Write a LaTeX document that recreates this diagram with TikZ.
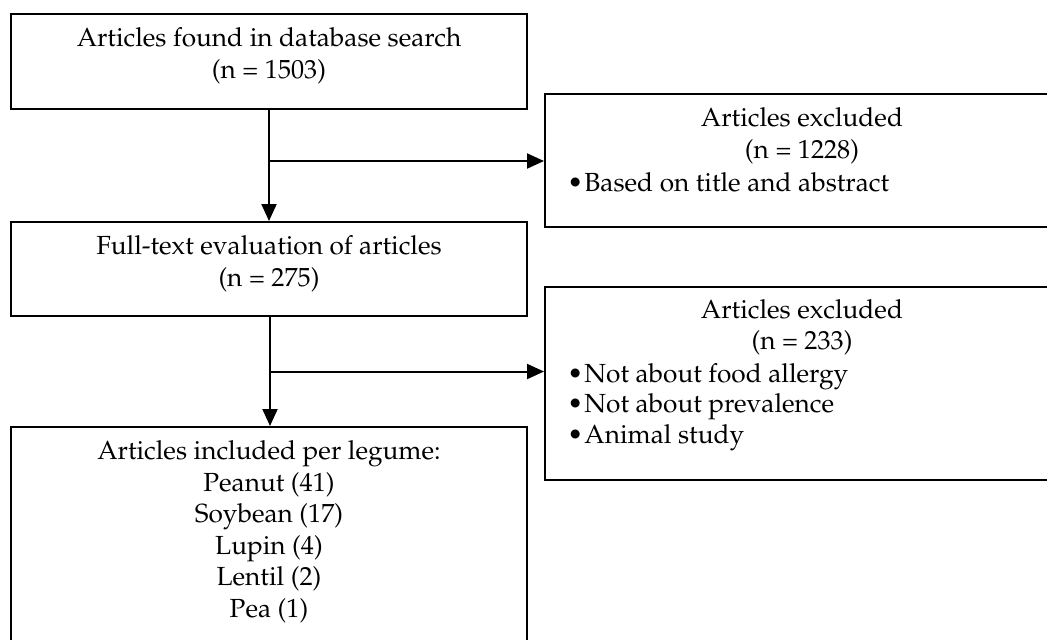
\documentclass[tikz,border=0pt]{standalone}
\usepackage[T1]{fontenc}
\usepackage{mathpazo}
\usetikzlibrary{arrows.meta}
\begin{document}
\begin{tikzpicture}[x=0.5pt,y=-0.5pt,
  box/.style={draw=black,line width=1pt,inner sep=0pt,rectangle},
  txt/.style={align=center,inner sep=0pt,font=\fontsize{13.1}{15.75}\selectfont},
  ltxt/.style={align=left,inner sep=0pt,anchor=west,font=\fontsize{13.1}{15.4}\selectfont},
  conn/.style={line width=1pt,-{Triangle[length=8.5pt,width=7.5pt]}}]
\useasboundingbox (0,0) rectangle (1047,639);
\clip (0,0) rectangle (1047,639);
% left column boxes
\node[box,minimum width=258pt,minimum height=47.5pt] (b1) at (269,61.5) {};
\node[box,minimum width=258pt,minimum height=47pt] (b2) at (269,269) {};
\node[box,minimum width=258pt,minimum height=109pt] (b3) at (269,536) {};
% right column boxes
\node[box,minimum width=257pt,minimum height=66.5pt] (r1) at (802,160.5) {};
\node[box,minimum width=257pt,minimum height=96.5pt] (r2) at (802,383.5) {};
% texts
\node[txt] (t1) at (269,56) {Articles found in database search\\(n = 1503)};
\node[txt] (t2) at (269,264) {Full-text evaluation of articles\\(n = 275)};
\node[txt] (t3) at (269,531.5) {Articles included per legume:\\Peanut (41)\\Soybean (17)\\Lupin (4)\\Lentil (2)\\Pea (1)};
\node[txt] (t4) at (802,136) {Articles excluded\\(n = 1228)};
\node[ltxt] (t5) at (567,182) {\textbullet\hspace{0.6pt}Based on title and abstract};
\node[txt] (t6) at (802,327.5) {Articles excluded\\(n = 233)};
\node[ltxt] (t7) at (567,407) {\textbullet\hspace{0.6pt}Not about food allergy\\\textbullet\hspace{0.6pt}Not about prevalence\\\textbullet\hspace{0.6pt}Animal study};
% connectors
\coordinate (j1) at (269,161);
\coordinate (j2) at (270,371.5);
\draw[conn] (b1.south) -- (b2.north);
\draw[conn] (j1) -- (j1 -| r1.west);
\draw[conn] (b2.south -| j2) -- (b3.north -| j2);
\draw[conn] (j2) -- (j2 -| r2.west);
\end{tikzpicture}
\end{document}
